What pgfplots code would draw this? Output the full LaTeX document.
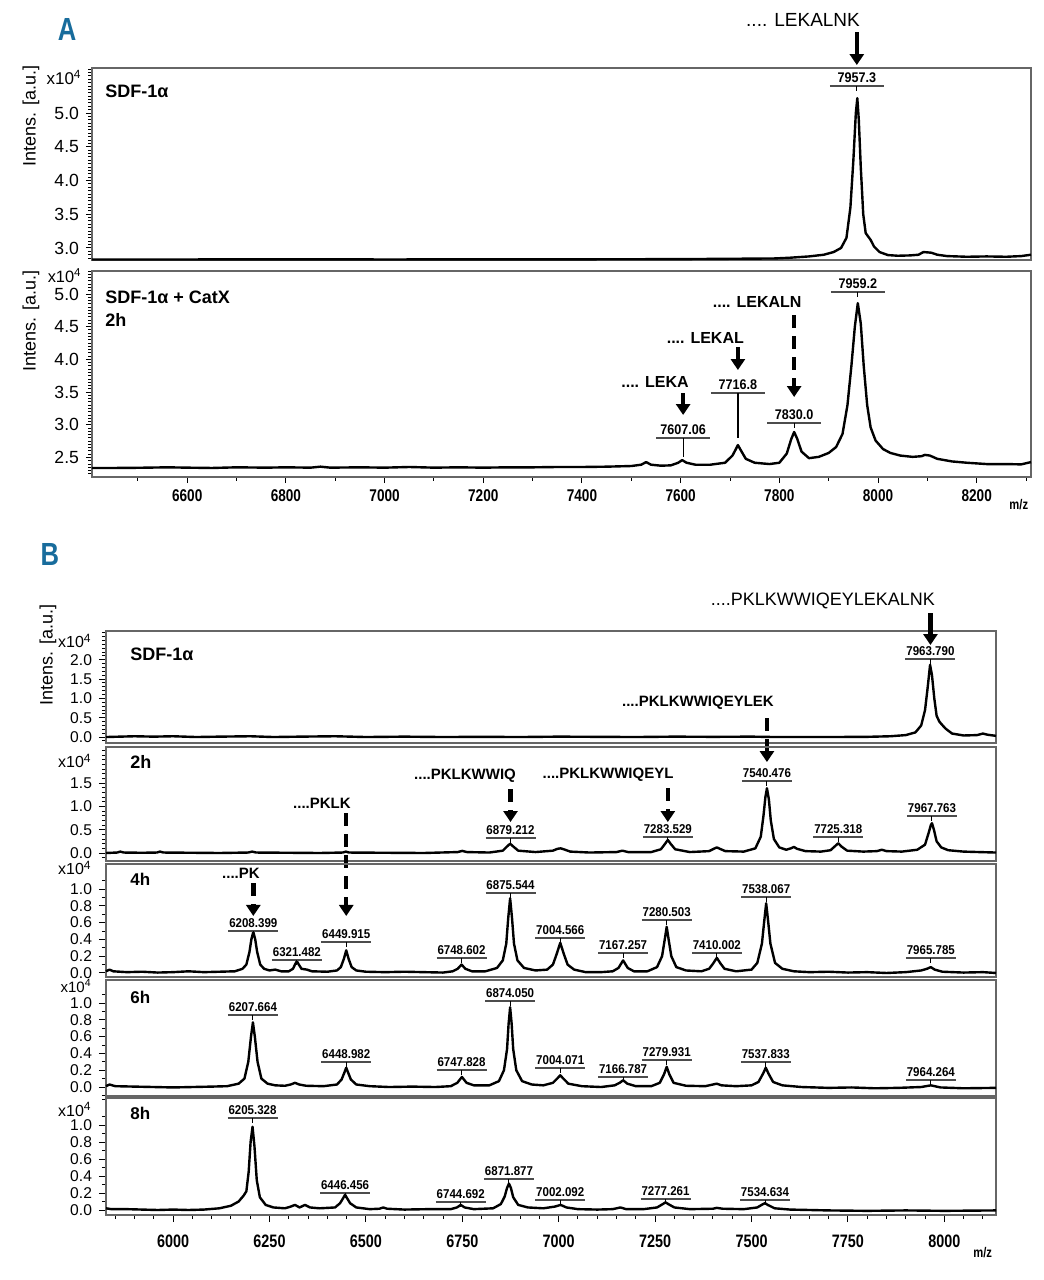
\documentclass[border=0pt]{standalone}
\usepackage{fontspec}
\setmainfont{Liberation Sans}
\newfontfamily\nbA[FakeStretch=0.9]{Liberation Sans}
\newfontfamily\nbB[FakeStretch=0.8]{Liberation Sans}
\usepackage{pgfplots}
\usepackage{pgfplotstable}
\pgfplotsset{compat=1.18}
\usetikzlibrary{arrows.meta}
\definecolor{panelblue}{RGB}{24,108,156}

\pgfplotstableread{
x y
6407 2.83
6600 2.83
6800 2.832
7000 2.83
7200 2.831
7400 2.832
7600 2.835
7700 2.84
7790 2.845
7820 2.855
7860 2.875
7890 2.9
7910 2.94
7925 3.0
7936 3.15
7944 3.6
7950 4.3
7955 5.0
7958 5.22
7961 4.9
7965 4.2
7970 3.5
7975 3.22
7980 3.17
7985 3.12
7992 3.02
8003 2.94
8020 2.895
8040 2.885
8065 2.89
8082 2.9
8092 2.94
8100 2.935
8108 2.93
8120 2.9
8140 2.88
8180 2.87
8220 2.875
8260 2.87
8290 2.88
8310 2.9
}\tAone

\pgfplotstableread{
x y
6407 2.34
6450 2.34
6500 2.343
6560 2.35
6600 2.345
6650 2.34
6700 2.35
6760 2.345
6800 2.35
6850 2.345
6870 2.36
6890 2.345
6950 2.35
7000 2.345
7050 2.355
7100 2.345
7150 2.35
7200 2.345
7250 2.35
7300 2.35
7350 2.355
7400 2.355
7450 2.36
7500 2.37
7520 2.39
7530 2.43
7540 2.39
7560 2.375
7580 2.38
7595 2.42
7603 2.46
7612 2.42
7630 2.39
7660 2.39
7690 2.42
7705 2.53
7712 2.63
7716 2.69
7722 2.61
7732 2.48
7750 2.42
7780 2.40
7800 2.42
7815 2.56
7824 2.78
7830 2.89
7836 2.79
7845 2.59
7860 2.49
7880 2.51
7900 2.57
7915 2.66
7928 2.86
7938 3.3
7946 3.9
7953 4.5
7959 4.86
7965 4.55
7971 3.9
7978 3.3
7985 2.96
7995 2.76
8010 2.63
8025 2.57
8045 2.53
8070 2.51
8088 2.52
8095 2.54
8105 2.53
8120 2.48
8150 2.44
8180 2.42
8220 2.40
8260 2.40
8290 2.395
8310 2.43
}\tAtwo

\pgfplotstableread{
x y
5826 0.0
5900 0.02
5950 0.01
6000 0.02
6060 0.0
6120 0.01
6200 0.02
6260 0.0
6330 0.01
6420 0.02
6500 0.0
6600 0.01
6700 0.0
6800 0.005
6900 0.0
7000 0.01
7100 0.005
7200 0.0
7300 0.01
7400 0.005
7500 0.01
7560 0.0
7700 0.0
7800 0.005
7860 0.02
7900 0.05
7925 0.12
7940 0.3
7950 0.7
7957 1.3
7963 1.87
7968 1.6
7974 1.0
7980 0.55
7987 0.4
7993 0.33
8003 0.22
8020 0.09
8050 0.04
8085 0.05
8100 0.09
8112 0.06
8134 0.03
}\tBone

\pgfplotstableread{
x y
5826 0.0
5855 0.01
5863 0.03
5872 0.01
5920 0.005
5958 0.01
5966 0.03
5975 0.01
6050 0.005
6120 0.0
6195 0.01
6205 0.03
6215 0.01
6300 0.005
6380 0.0
6440 0.01
6448 0.03
6456 0.01
6550 0.005
6650 0.0
6738 0.02
6750 0.045
6762 0.02
6820 0.01
6855 0.05
6866 0.14
6874 0.2
6882 0.14
6895 0.05
6940 0.02
6985 0.05
6997 0.09
7005 0.1
7013 0.08
7030 0.03
7080 0.01
7150 0.02
7165 0.05
7180 0.02
7240 0.02
7265 0.08
7276 0.2
7283 0.28
7290 0.2
7302 0.08
7340 0.02
7390 0.04
7402 0.09
7410 0.12
7418 0.09
7432 0.04
7480 0.03
7510 0.1
7524 0.35
7531 0.8
7536 1.2
7540 1.39
7545 1.15
7550 0.7
7558 0.3
7572 0.12
7590 0.07
7602 0.1
7610 0.13
7618 0.09
7640 0.04
7680 0.03
7705 0.06
7717 0.15
7725 0.21
7733 0.14
7748 0.05
7790 0.03
7825 0.04
7838 0.07
7850 0.04
7890 0.03
7930 0.07
7950 0.18
7960 0.45
7965 0.6
7968 0.64
7973 0.5
7980 0.25
7992 0.12
8010 0.06
8050 0.03
8090 0.02
8134 0.01
}\tBtwo

\pgfplotstableread{
x y
5826 0.02
5835 0.04
5845 0.02
5880 0.01
5920 0.015
5960 0.005
6000 0.01
6040 0.02
6080 0.01
6120 0.015
6160 0.02
6180 0.05
6190 0.1
6198 0.25
6203 0.4
6208 0.49
6213 0.4
6218 0.25
6226 0.1
6236 0.05
6250 0.03
6265 0.04
6280 0.02
6300 0.02
6311 0.05
6316 0.1
6321 0.14
6326 0.1
6333 0.05
6347 0.04
6360 0.02
6400 0.015
6425 0.03
6435 0.07
6443 0.17
6449 0.27
6455 0.17
6463 0.07
6475 0.03
6500 0.015
6550 0.01
6600 0.015
6650 0.01
6700 0.005
6725 0.02
6738 0.05
6748 0.1
6758 0.05
6775 0.02
6810 0.02
6840 0.06
6855 0.15
6864 0.35
6869 0.65
6874 0.89
6879 0.65
6884 0.35
6893 0.15
6910 0.06
6940 0.03
6970 0.04
6985 0.1
6995 0.23
7004 0.36
7013 0.23
7023 0.1
7040 0.04
7070 0.01
7110 0.01
7140 0.02
7155 0.06
7167 0.15
7179 0.06
7195 0.02
7230 0.02
7255 0.07
7268 0.2
7275 0.4
7280 0.55
7285 0.4
7292 0.2
7305 0.07
7330 0.03
7370 0.02
7390 0.05
7400 0.11
7410 0.18
7420 0.11
7430 0.05
7460 0.02
7500 0.04
7515 0.12
7527 0.35
7533 0.62
7538 0.83
7543 0.62
7549 0.35
7561 0.12
7580 0.05
7610 0.02
7650 0.01
7700 0.015
7750 0.005
7800 0.01
7850 0.0
7900 0.01
7940 0.03
7955 0.05
7965 0.07
7975 0.04
7995 0.015
8050 0.005
8100 0.01
8134 0.0
}\tBthree

\pgfplotstableread{
x y
5826 0.01
5835 0.03
5850 0.01
5900 0.005
5950 0.0
6000 -0.005
6050 0.0
6100 0.005
6140 0.01
6170 0.04
6185 0.1
6195 0.3
6202 0.6
6207 0.77
6212 0.6
6219 0.3
6229 0.1
6245 0.04
6265 0.02
6290 0.015
6305 0.03
6316 0.05
6327 0.03
6345 0.015
6390 0.01
6425 0.03
6437 0.09
6444 0.17
6449 0.23
6454 0.17
6461 0.09
6475 0.03
6510 0.01
6560 0.0
6620 0.005
6680 0.0
6720 0.01
6737 0.05
6749 0.12
6761 0.05
6780 0.02
6820 0.02
6845 0.07
6858 0.2
6866 0.45
6870 0.75
6874 0.95
6878 0.75
6882 0.45
6890 0.2
6905 0.07
6930 0.03
6960 0.02
6985 0.05
6996 0.1
7004 0.14
7012 0.1
7025 0.04
7060 0.01
7110 0.0
7145 0.02
7158 0.05
7167 0.08
7178 0.04
7200 0.01
7240 0.01
7262 0.05
7273 0.15
7280 0.24
7287 0.15
7298 0.05
7330 0.015
7380 0.01
7400 0.03
7410 0.04
7422 0.02
7460 0.01
7500 0.02
7518 0.06
7530 0.16
7537 0.23
7544 0.16
7556 0.06
7580 0.02
7630 0.0
7700 -0.01
7760 -0.005
7820 -0.015
7880 -0.01
7940 0.0
7965 0.02
7990 -0.005
8050 -0.015
8134 -0.01
}\tBfour

\pgfplotstableread{
x y
5826 0.02
5840 0.01
5880 0.01
5920 0.005
5960 0.0
6000 0.005
6040 0.0
6080 0.005
6120 0.02
6150 0.05
6170 0.1
6183 0.17
6190 0.22
6196 0.45
6201 0.8
6206 0.98
6211 0.75
6217 0.35
6225 0.15
6240 0.06
6260 0.03
6290 0.02
6305 0.04
6316 0.06
6328 0.03
6342 0.06
6355 0.03
6380 0.02
6420 0.03
6433 0.08
6441 0.14
6446 0.18
6451 0.14
6459 0.08
6475 0.03
6510 0.01
6535 0.015
6545 0.03
6555 0.015
6600 0.005
6660 0.01
6720 0.01
6736 0.03
6746 0.06
6756 0.03
6780 0.01
6830 0.02
6850 0.07
6860 0.16
6866 0.26
6871 0.31
6876 0.26
6882 0.15
6895 0.06
6920 0.03
6960 0.02
6990 0.04
7005 0.06
7020 0.03
7050 0.01
7100 0.005
7140 0.01
7160 0.03
7175 0.01
7220 0.01
7255 0.03
7270 0.07
7277 0.09
7284 0.07
7300 0.03
7340 0.01
7400 0.015
7410 0.025
7425 0.015
7480 0.01
7515 0.03
7528 0.065
7535 0.08
7542 0.06
7560 0.02
7600 0.005
7700 -0.005
7800 -0.01
7900 -0.005
8000 -0.01
8134 -0.005
}\tBfive

\tikzset{
  sarr/.style={line width=2.2pt, -{Triangle[width=7pt,length=5.5pt]}},
  darr/.style={sarr, dash pattern=on 6.5pt off 4pt},
  spc/.style={black, line width=1.2pt, line join=round, mark=none},
}
\pgfplotsset{
  spec/.style={
    scale only axis, clip=false, anchor=north west,
    axis line style={black!60, line width=0.6pt},
    tick style={black, line width=0.5pt},
    tick align=outside,
    ytick pos=left,
    /pgf/number format/assume math mode=true,
    yticklabel style={/pgf/number format/fixed, /pgf/number format/fixed zerofill, /pgf/number format/precision=1},
    xticklabel style={/pgf/number format/fixed, /pgf/number format/precision=0, /pgf/number format/1000 sep={}},
  },
  specA/.style={spec, width=469.5pt, xmin=6407, xmax=8310,
    major tick length=3pt, minor tick length=1.8pt,
    yticklabel style={font=\fontsize{8.8}{10}\selectfont}},
  specB/.style={spec, width=445pt, xmin=5826, xmax=8134,
    major tick length=3.5pt, minor tick length=2pt,
    yticklabel style={font=\fontsize{7.8}{8}\selectfont}},
}
\def\pkhw{13.5pt}
\def\pkfont{\nbA\bfseries\fontsize{7}{8}\selectfont}
\newcommand{\pk}[3]{%
  \draw[black!70, line width=0.8pt] ([xshift=-\pkhw]axis cs:#1,#2) -- ([xshift=\pkhw]axis cs:#1,#2);
  \draw[black, line width=0.5pt] (axis cs:#1,#2) -- ++(0pt,-2.5pt);
  \node[anchor=south, inner sep=0pt, yshift=1.3pt, font=\pkfont] at (axis cs:#1,#2) {#3};
}
\newcommand{\pkl}[4]{%
  \draw[black!70, line width=0.8pt] ([xshift=-\pkhw]axis cs:#1,#2) -- ([xshift=\pkhw]axis cs:#1,#2);
  \draw[black, line width=0.6pt] (axis cs:#1,#2) -- (axis cs:#1,#3);
  \node[anchor=south, inner sep=0pt, yshift=1.3pt, font=\pkfont] at (axis cs:#1,#2) {#4};
}

\begin{document}
\begin{tikzpicture}
\path[use as bounding box] (0pt,0pt) rectangle (522pt,-640pt);

% ---------------- Panel A, top ----------------
\begin{axis}[specA, at={(46pt,-34pt)}, height=96pt,
  ymin=2.822, ymax=5.667, xtick=\empty,
  ytick={3,3.5,...,5}, minor ytick={2.85,2.9,...,5.65}]
\addplot[spc] table[x=x,y=y] {\tAone};
\node[font=\nbB\bfseries\fontsize{16}{18}\selectfont, text=panelblue] at (rel axis cs:-0.0266,1.198) {A};
\node[anchor=west, inner sep=0pt, font=\bfseries\fontsize{9}{10}\selectfont] at (rel axis cs:0.0138,0.88) {SDF-1α};
\node[anchor=east, inner sep=0pt, font=\fontsize{8.5}{10}\selectfont] at ([xshift=-5pt]rel axis cs:0,0.95) {x10\textsuperscript{4}};
\node[rotate=90, font=\fontsize{9}{10}\selectfont] at ([xshift=-30.5pt]rel axis cs:0,0.75) {Intens. [a.u.]};
\pk{7957}{5.40}{7957.3}
\node[font=\fontsize{9.5}{11}\selectfont] at (axis cs:7848,6.378) {.... LEKALNK};
\draw[sarr] (axis cs:7957,6.20) -- (axis cs:7957,5.711);
\end{axis}

% ---------------- Panel A, bottom ----------------
\begin{axis}[specA, at={(46pt,-135.5pt)}, height=103pt,
  ymin=2.202, ymax=5.352,
  xtick={6600,6800,...,8200}, minor xtick={6500,6700,...,8300}, xtick pos=bottom,
  xticklabel style={font=\nbB\bfseries\fontsize{8.5}{10}\selectfont},
  ytick={2.5,3,...,5}, minor ytick={2.25,2.3,...,5.35}]
\addplot[spc] table[x=x,y=y] {\tAtwo};
\node[anchor=west, inner sep=0pt, font=\bfseries\fontsize{9}{10}\selectfont] at (rel axis cs:0.0138,0.874) {SDF-1α + CatX};
\node[anchor=west, inner sep=0pt, font=\bfseries\fontsize{9}{10}\selectfont] at (rel axis cs:0.0138,0.762) {2h};
\node[anchor=east, inner sep=0pt, font=\fontsize{8.2}{9}\selectfont] at ([xshift=-5pt]rel axis cs:0,0.978) {x10\textsuperscript{4}};
\node[rotate=90, font=\fontsize{9}{10}\selectfont] at ([xshift=-30.5pt]rel axis cs:0,0.757) {Intens. [a.u.]};
\node[font=\nbB\bfseries\fontsize{7}{8}\selectfont] at (rel axis cs:0.987,-0.136) {m/z};
\pk{7959}{5.031}{7959.2}
\pk{7830}{3.028}{7830.0}
\pkl{7716}{3.486}{2.798}{7716.8}
\pkl{7605}{2.798}{2.508}{7607.06}
\node[font=\bfseries\fontsize{8}{9}\selectfont] at (axis cs:7548,3.654) {.... LEKA};
\node[font=\bfseries\fontsize{8}{9}\selectfont] at (axis cs:7650,4.327) {.... LEKAL};
\node[font=\bfseries\fontsize{8}{9}\selectfont] at (axis cs:7755,4.878) {.... LEKALN};
\draw[sarr] (axis cs:7605,3.486) -- (axis cs:7605,3.150);
\draw[sarr] (axis cs:7716,4.190) -- (axis cs:7716,3.838);
\draw[darr] (axis cs:7830,4.679) -- (axis cs:7830,3.425);
\end{axis}

\def\pkhw{12.5pt}
\def\pkfont{\nbA\bfseries\fontsize{6.4}{7}\selectfont}
\def\seqfont{\bfseries\fontsize{7.5}{9}\selectfont}

% ---------------- Panel B1: SDF-1a ----------------
\begin{axis}[specB, at={(53pt,-315.5pt)}, height=56pt,
  ymin=-0.155, ymax=2.746, xtick=\empty,
  ytick={0,0.5,...,2}, minor ytick={-0.1,0,...,2.7}]
\addplot[spc] table[x=x,y=y] {\tBone};
\node[font=\nbB\bfseries\fontsize{16}{18}\selectfont, text=panelblue] at (rel axis cs:-0.063,1.679) {B};
\node[anchor=west, inner sep=0pt, font=\bfseries\fontsize{9}{10}\selectfont] at (rel axis cs:0.027,0.795) {SDF-1α};
\node[anchor=east, inner sep=0pt, font=\fontsize{8}{9}\selectfont] at ([xshift=-7pt]rel axis cs:0,0.911) {x10\textsuperscript{4}};
\node[rotate=90, font=\fontsize{9}{10}\selectfont] at ([xshift=-29pt]rel axis cs:0,0.786) {Intens. [a.u.]};
\pk{7964}{2.021}{7963.790}
\node[font=\fontsize{9}{10}\selectfont] at (axis cs:7685,3.523) {....PKLKWWIQEYLEKALNK};
\draw[sarr] (axis cs:7964,3.212) -- (axis cs:7964,2.383);
\node[font=\seqfont] at (axis cs:7361,0.881) {....PKLKWWIQEYLEK};
\draw[darr] (axis cs:7540,0.492) -- (axis cs:7540,-0.648);
\end{axis}

% ---------------- Panel B2: 2h ----------------
\begin{axis}[specB, at={(53pt,-373.5pt)}, height=57pt,
  ymin=-0.172, ymax=2.275, xtick=\empty,
  ytick={0,0.5,...,1.5}, minor ytick={-0.1,0,...,2.2}]
\addplot[spc] table[x=x,y=y] {\tBtwo};
\node[anchor=west, inner sep=0pt, font=\bfseries\fontsize{9}{10}\selectfont] at (rel axis cs:0.027,0.868) {2h};
\node[anchor=east, inner sep=0pt, font=\fontsize{8}{9}\selectfont] at ([xshift=-7pt]rel axis cs:0,0.877) {x10\textsuperscript{4}};
\pk{7540}{1.545}{7540.476}
\pk{7283}{0.343}{7283.529}
\pk{7725}{0.343}{7725.318}
\pk{7968}{0.794}{7967.763}
\pk{6875}{0.322}{6879.212}
\node[font=\seqfont] at (axis cs:7128,1.674) {....PKLKWWIQEYL};
\draw[darr] (axis cs:7283,1.395) -- (axis cs:7283,0.665);
\node[font=\seqfont] at (axis cs:6757,1.652) {....PKLKWWIQ};
\draw[darr] (axis cs:6875,1.373) -- (axis cs:6875,0.665);
\node[font=\seqfont] at (axis cs:6386,1.073) {....PKLK};
\draw[darr] (axis cs:6449,0.858) -- (axis cs:6449,-1.352);
\end{axis}

% ---------------- Panel B3: 4h ----------------
\begin{axis}[specB, at={(53pt,-432pt)}, height=56.5pt,
  ymin=-0.048, ymax=1.298, xtick=\empty,
  ytick={0,0.2,...,1}, minor ytick={0.1,0.3,...,1.3}]
\addplot[spc] table[x=x,y=y] {\tBthree};
\node[anchor=west, inner sep=0pt, font=\bfseries\fontsize{8.5}{10}\selectfont] at (rel axis cs:0.027,0.867) {4h};
\node[anchor=east, inner sep=0pt, font=\fontsize{8}{9}\selectfont] at ([xshift=-7pt]rel axis cs:0,0.965) {x10\textsuperscript{4}};
\node[font=\seqfont] at (axis cs:6176,1.19) {....PK};
\draw[darr] (axis cs:6208,1.071) -- (axis cs:6208,0.679);
\pk{6208}{0.5}{6208.399}
\pk{6321}{0.155}{6321.482}
\pk{6449}{0.369}{6449.915}
\pk{6748}{0.179}{6748.602}
\pk{6875}{0.952}{6875.544}
\pk{7004}{0.417}{7004.566}
\pk{7167}{0.238}{7167.257}
\pk{7280}{0.631}{7280.503}
\pk{7410}{0.238}{7410.002}
\pk{7538}{0.905}{7538.067}
\pk{7965}{0.179}{7965.785}
\end{axis}

% ---------------- Panel B4: 6h ----------------
\begin{axis}[specB, at={(53pt,-490pt)}, height=58pt,
  ymin=-0.107, ymax=1.274, xtick=\empty,
  ytick={0,0.2,...,1}, minor ytick={-0.1,0.1,...,1.2}]
\addplot[spc] table[x=x,y=y] {\tBfour};
\node[anchor=west, inner sep=0pt, font=\bfseries\fontsize{8.5}{10}\selectfont] at (rel axis cs:0.027,0.853) {6h};
\node[anchor=east, inner sep=0pt, font=\fontsize{7.5}{8}\selectfont] at ([xshift=-7pt]rel axis cs:0,0.945) {x10\textsuperscript{4}};
\pk{6207}{0.857}{6207.664}
\pk{6449}{0.298}{6448.982}
\pk{6748}{0.202}{6747.828}
\pk{6874}{1.024}{6874.050}
\pk{7004}{0.226}{7004.071}
\pk{7167}{0.119}{7166.787}
\pk{7280}{0.321}{7279.931}
\pk{7537}{0.298}{7537.833}
\pk{7965}{0.083}{7964.264}
\end{axis}

% ---------------- Panel B5: 8h ----------------
\begin{axis}[specB, at={(53pt,-549pt)}, height=58.5pt,
  ymin=-0.059, ymax=1.318,
  xtick={6000,6250,...,8000}, minor xtick={5850,5900,...,8100}, xtick pos=bottom,
  xticklabel style={font=\nbB\bfseries\fontsize{9}{10}\selectfont, yshift=-3pt},
  ytick={0,0.2,...,1}, minor ytick={0.1,0.3,...,1.3}]
\addplot[spc] table[x=x,y=y] {\tBfive};
\node[anchor=west, inner sep=0pt, font=\bfseries\fontsize{8.5}{10}\selectfont] at (rel axis cs:0.027,0.872) {8h};
\node[anchor=east, inner sep=0pt, font=\fontsize{8}{9}\selectfont] at ([xshift=-7pt]rel axis cs:0,0.9) {x10\textsuperscript{4}};
\node[font=\nbB\bfseries\fontsize{7}{8}\selectfont] at (rel axis cs:0.985,-0.325) {m/z};
\pk{6206}{1.082}{6205.328}
\pk{6446}{0.2}{6446.456}
\pk{6746}{0.094}{6744.692}
\pk{6871}{0.365}{6871.877}
\pk{7004}{0.118}{7002.092}
\pk{7277}{0.129}{7277.261}
\pk{7535}{0.118}{7534.634}
\end{axis}
\end{tikzpicture}
\end{document}
